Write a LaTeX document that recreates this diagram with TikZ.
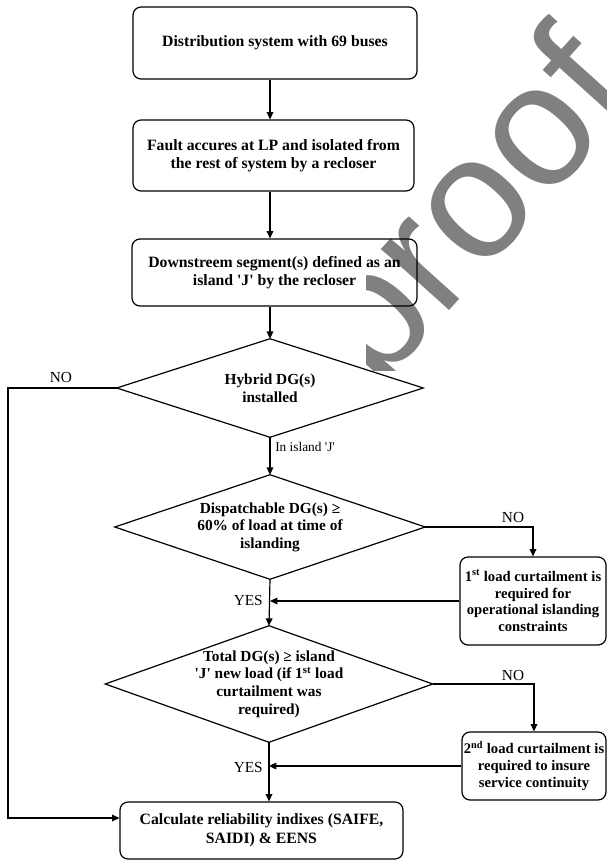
\documentclass[tikz,border=0pt]{standalone}
\usepackage{fontspec}
\setmainfont{Liberation Serif}
\newfontfamily\wmfont{Liberation Sans}
\usetikzlibrary{arrows.meta}
\definecolor{wmgray}{RGB}{128,128,128}
\begin{document}
\begin{tikzpicture}[x=0.75pt,y=-0.75pt,
  box/.style={draw, rounded corners=6pt, line width=0.9pt, align=center,
    font=\bfseries\fontsize{11.8}{14}\selectfont, inner sep=0pt},
  sidebox/.style={box, font=\bfseries\fontsize{11}{12.7}\selectfont},
  dtext/.style={align=center, font=\bfseries\fontsize{11.5}{13.2}\selectfont, inner sep=0pt},
  lbl/.style={font=\fontsize{11.5}{13}\selectfont, inner sep=0pt},
  smlbl/.style={font=\fontsize{10}{12}\selectfont, inner sep=0pt},
  wm/.style={font=\wmfont\fontsize{130}{130}\selectfont, text=wmgray, inner sep=0pt},
  arr/.style={-{Triangle[length=5.5pt,width=5pt]}, line width=0.9pt},
  ln/.style={line width=0.9pt},
]
\useasboundingbox (0,0) rectangle (607,861);

% watermark
\begin{scope}
  \clip (366,0) rectangle (607,370);
  \node[wm, rotate=48, anchor=base west] (wmark) at (377,391) {proof};
\end{scope}

% boxes
\node[box, minimum width=213pt, minimum height=54pt] (b1) at (275,43)
  {Distribution system with 69 buses};
\node[box, minimum width=210.75pt, minimum height=53.25pt] (b2) at (273.5,155.5)
  {Fault accures at LP and isolated from\\the rest of system by a recloser};
\node[box, minimum width=213.75pt, minimum height=50.25pt] (b3) at (274.5,272.5)
  {Downstreem segment(s) defined as an\\island \textquotesingle J\textquotesingle{} by the recloser};

% decisions (diamonds drawn on the node anchors)
\node[dtext, minimum width=229.5pt, minimum height=73.5pt] (d1) at (270,388)
  {Hybrid DG(s)\\installed};
\node[dtext, minimum width=232.5pt, minimum height=78pt] (d2) at (270,527)
  {Dispatchable DG(s) ≥\\60\% of load at time of\\islanding};
\node[dtext, minimum width=245.25pt, minimum height=87pt] (d3) at (269,684)
  {Total DG(s) ≥ island\\\textquotesingle J\textquotesingle{} new load (if 1\textsuperscript{st} load\\curtailment was\\required)};
\foreach \d in {d1,d2,d3}
  \draw[ln, line join=miter] (\d.north) -- (\d.east) -- (\d.south) -- (\d.west) -- cycle;

\node[sidebox, minimum width=109.5pt, minimum height=66pt] (b4) at (533,601)
  {1\textsuperscript{st} load curtailment is\\required for\\operational islanding\\constraints};
\node[sidebox, minimum width=108pt, minimum height=51pt] (b5) at (534,766)
  {2\textsuperscript{nd} load curtailment is\\required to insure\\service continuity};
\node[box, minimum width=212.25pt, minimum height=42.75pt] (b6) at (261.5,830.5)
  {Calculate reliability indixes (SAIFE,\\SAIDI) \& EENS};

% labels
\node[lbl] (no1) at (61,377) {NO};
\node[smlbl, anchor=west] (isl) at (275,447) {In island \textquotesingle J\textquotesingle};
\node[lbl] (no2) at (513,517) {NO};
\node[lbl, anchor=east] (yes1) at (263,600) {YES};
\node[lbl] (no3) at (513,675) {NO};
\node[lbl, anchor=east] (yes2) at (263,767) {YES};

% connectors
\coordinate (nl) at (8,818);
\draw[arr] (b1.south -| d1.north) -- (b2.north -| d1.north);
\draw[arr] (b2.south -| d1.north) -- (b3.north -| d1.north);
\draw[arr] (b3.south -| d1.north) -- (d1.north);
\draw[arr] (d1.west) -- (d1.west -| nl) -- (nl) -- (nl -| b6.west);
\draw[arr] (d1.south) -- (d2.north);
\draw[arr] (d2.east) -| (b4.north);
\draw[arr] (b4.west) -- (b4.west -| d2.south);
\draw[arr] (d2.south) -- (d3.north);
\draw[arr] (d3.east) -| (b5.north);
\draw[arr] (b5.west) -- (b5.west -| d3.south);
\draw[arr] (d3.south) -- (d3.south |- b6.north);
\end{tikzpicture}
\end{document}
